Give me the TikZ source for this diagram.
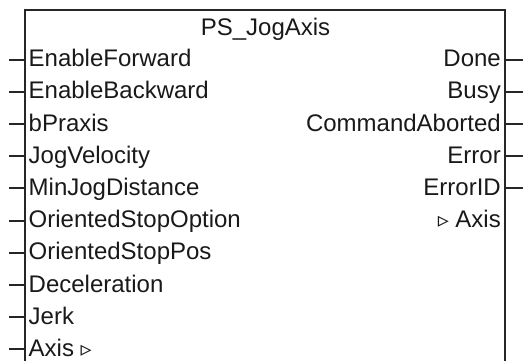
\documentclass[tikz,border=0pt]{standalone}
\usepackage{fontspec}
\setmainfont{Liberation Sans}
\newfontfamily\symfont{DejaVu Sans}
\newcommand{\reftri}{{\symfont\fontsize{22}{22}\selectfont ▹}}
\begin{document}
\begin{tikzpicture}[x=1pt,y=-1pt,
  lbl/.style={inner sep=0pt, font=\fontsize{24}{24}\selectfont, text=black!90},
  pinline/.style={line width=2pt, draw=black!85},
  frame/.style={line width=2.2pt, draw=black!85}]
\useasboundingbox (0,0) rectangle (523,360);
% function block body (runs past the lower edge)
\coordinate (tl) at (25,10);
\coordinate (tr) at (505,10);
\draw[frame] (tl |- 0,380) -- (tl) -- (tr) -- (tr |- 0,380);
\node[lbl, anchor=base] (title) at (265.5,35.5) {PS\_JogAxis};
% inputs
\foreach \txt [count=\i from 0] in {EnableForward,EnableBackward,bPraxis,JogVelocity,
    MinJogDistance,OrientedStopOption,OrientedStopPos,Deceleration,Jerk,Axis \reftri}{
  \pgfmathsetmacro{\yy}{59.5+32.2*\i}
  \coordinate (ip\i) at (9,\yy);
  \node[lbl, anchor=base west] (in\i) at (28.5,\yy+7.2) {\txt};
  \draw[pinline] (ip\i) -- (ip\i -| tl);
}
% outputs
\foreach \txt [count=\i from 0] in {Done,Busy,CommandAborted,Error,ErrorID}{
  \pgfmathsetmacro{\yy}{59.5+32.2*\i}
  \coordinate (op\i) at (523,\yy);
  \node[lbl, anchor=base east] (out\i) at (501,\yy+7.2) {\txt};
  \draw[pinline] (op\i -| tr) -- (op\i);
}
\node[lbl, anchor=base east] (out5) at (501,59.5+32.2*5+7.2) {\reftri\ Axis};
\end{tikzpicture}
\end{document}
